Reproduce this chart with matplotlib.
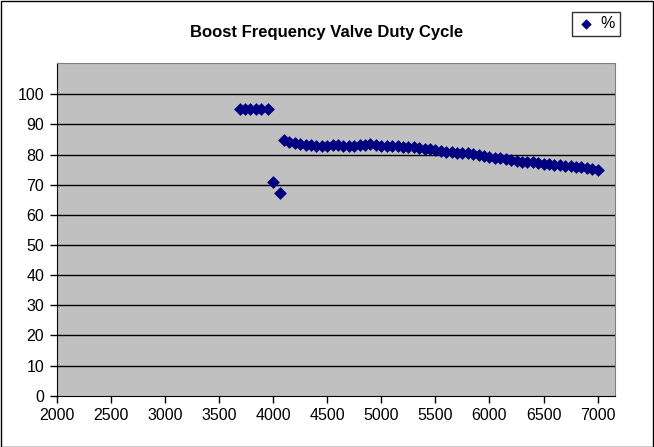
import matplotlib
matplotlib.use("Agg")
import matplotlib.pyplot as plt
from matplotlib.patches import Rectangle

plt.rcParams['font.family'] = ['Liberation Sans', 'DejaVu Sans']

rpm = [3690, 3740, 3790, 3840, 3890, 3950, 4000, 4060,
       4100, 4150, 4200, 4250, 4300, 4350, 4400, 4450, 4500, 4550,
       4600, 4650, 4700, 4750, 4800, 4850, 4900, 4950, 5000, 5050,
       5100, 5150, 5200, 5250, 5300, 5350, 5400, 5450, 5500, 5550,
       5600, 5650, 5700, 5750, 5800, 5850, 5900, 5950, 6000, 6050,
       6100, 6150, 6200, 6250, 6300, 6350, 6400, 6450, 6500, 6550,
       6600, 6650, 6700, 6750, 6800, 6850, 6900, 6950, 7000]
duty = [95.3, 95.3, 95.3, 95.3, 95.3, 95.3, 70.8, 67.4,
        84.8, 84.3, 84.0, 83.4, 83.2, 83.1, 83.0, 83.0, 83.0, 83.1,
        83.1, 83.0, 83.0, 83.0, 83.1, 83.2, 83.4, 83.3, 83.0, 83.0,
        82.8, 82.7, 82.6, 82.4, 82.4, 82.3, 82.0, 81.8, 81.5, 81.3,
        81.0, 80.8, 80.7, 80.6, 80.4, 80.2, 80.0, 79.5, 79.2, 79.0,
        78.8, 78.6, 78.3, 78.0, 77.6, 77.5, 77.5, 77.3, 77.0, 76.8,
        76.6, 76.5, 76.3, 76.2, 76.0, 75.9, 75.6, 75.3, 74.8]
x_ticks = [2000, 2500, 3000, 3500, 4000, 4500, 5000, 5500, 6000, 6500, 7000]
y_ticks = [0, 10, 20, 30, 40, 50, 60, 70, 80, 90, 100]

fig = plt.figure(figsize=(6.54, 4.47), dpi=100)
fig.patch.set_facecolor('white')
fig.patches.append(Rectangle((0.5/654, 0.5/447), 1 - 1.5/654, 1 - 1.5/447,
                             transform=fig.transFigure, fill=False,
                             edgecolor='black', linewidth=1))

ax = fig.add_axes([56.7/654, 1 - 395.7/447, (615 - 56.7)/654, (395.7 - 63)/447])
ax.set_facecolor('#C0C0C0')
ax.set_xlim(2000, 7160)
ax.set_ylim(0, 110.4)
ax.set_xticks(x_ticks)
ax.set_yticks(y_ticks)
for v in y_ticks[1:]:
    ax.axhline(v, color='black', linewidth=1, zorder=1)

ax.scatter(rpm, duty, marker='D', s=36, color='#000080', edgecolors='#000080',
           linewidths=0.5, zorder=3, label='%')

for s in ['top', 'right']:
    ax.spines[s].set_color('#808080')
for s in ['left', 'bottom']:
    ax.spines[s].set_color('black')
ax.tick_params(direction='out', length=5, width=1, labelsize=11.5, colors='black', pad=4)

fig.text(327/654, 1 - 32/447, 'Boost Frequency Valve Duty Cycle', ha='center', va='center',
         fontsize=12, fontweight='bold')

leg = fig.legend(loc='center', bbox_to_anchor=(596/654, 1 - 24/447), frameon=True,
                 fancybox=False, edgecolor='black', fontsize=11.5, handletextpad=0.3,
                 borderpad=0.3, handlelength=1.2, markerscale=0.8)
leg.get_frame().set_linewidth(1)

fig.savefig('out.png', dpi=100)
